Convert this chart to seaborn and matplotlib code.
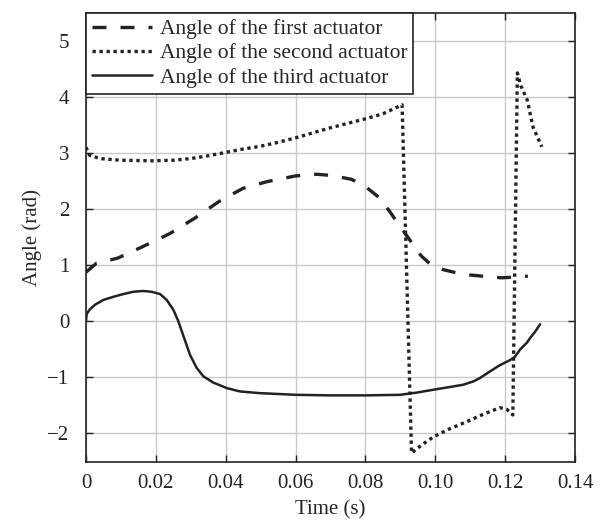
import matplotlib
matplotlib.use("Agg")
import matplotlib.pyplot as plt
import seaborn as sns
import pandas as pd

# ---- data ----
t1 = [0.0, 0.003, 0.009, 0.016, 0.024, 0.031, 0.038, 0.045, 0.052, 0.060, 0.066,
      0.070, 0.076, 0.080, 0.084, 0.087, 0.090, 0.093, 0.096, 0.099, 0.102, 0.106,
      0.110, 0.115, 0.119, 0.122, 0.1265]
a1 = [0.87, 1.03, 1.12, 1.32, 1.56, 1.83, 2.13, 2.37, 2.49, 2.59, 2.62,
      2.60, 2.53, 2.40, 2.20, 1.95, 1.68, 1.42, 1.16, 0.99, 0.92, 0.86,
      0.82, 0.79, 0.77, 0.78, 0.80]

t2 = [0.0, 0.001, 0.004, 0.010, 0.019, 0.025, 0.030, 0.035, 0.040, 0.045, 0.050,
      0.055, 0.060, 0.065, 0.070, 0.075, 0.080, 0.085, 0.0905, 0.0932, 0.096,
      0.0995, 0.104, 0.109, 0.114, 0.1185, 0.1205, 0.1222, 0.1235, 0.1245,
      0.1263, 0.128, 0.1295, 0.1305]
a2 = [3.10, 2.96, 2.90, 2.87, 2.86, 2.87, 2.90, 2.95, 3.01, 3.07, 3.12,
      3.19, 3.27, 3.36, 3.45, 3.53, 3.61, 3.70, 3.86, -2.36, -2.22,
      -2.07, -1.93, -1.80, -1.66, -1.55, -1.58, -1.68, 4.43, 4.20,
      3.95, 3.46, 3.25, 3.11]

t3 = [0.0, 0.0002, 0.00115, 0.0026, 0.005, 0.0078, 0.0107, 0.0135, 0.0164,
      0.0188, 0.0212, 0.0231, 0.025, 0.0264, 0.0279, 0.0298, 0.0317, 0.0336,
      0.0364, 0.0403, 0.0441, 0.0498, 0.060, 0.070, 0.080, 0.0899, 0.0947,
      0.0994, 0.1042, 0.108, 0.1109, 0.1128, 0.1157, 0.1185, 0.1214, 0.1228,
      0.1243, 0.1262, 0.1271, 0.1286, 0.130]
a3 = [0.0, 0.125, 0.21, 0.29, 0.375, 0.43, 0.48, 0.52, 0.535,
      0.52, 0.48, 0.375, 0.20, 0.0, -0.27, -0.61, -0.84, -0.99,
      -1.10, -1.20, -1.26, -1.29, -1.32, -1.33, -1.33, -1.32, -1.28,
      -1.23, -1.18, -1.14, -1.08, -1.02, -0.90, -0.79, -0.70, -0.64,
      -0.51, -0.39, -0.31, -0.19, -0.06]

labels = ["Angle of the first actuator", "Angle of the second actuator",
          "Angle of the third actuator"]
xticks = [0, 0.02, 0.04, 0.06, 0.08, 0.10, 0.12, 0.14]
xticklabels = ["0", "0.02", "0.04", "0.06", "0.08", "0.10", "0.12", "0.14"]
yticks = [-2, -1, 0, 1, 2, 3, 4, 5]

sns.set_style("ticks")
plt.rcParams["font.family"] = ["Liberation Serif", "DejaVu Serif"]
plt.rcParams["font.size"] = 15

fig = plt.figure(figsize=(6.03, 5.22), dpi=100)
ax = fig.add_axes([86/603, 1-462/522, (575-86)/603, (462-13)/522])

col = "#222222"
df1 = pd.DataFrame({"t": t1, "a": a1})
df2 = pd.DataFrame({"t": t2, "a": a2})
df3 = pd.DataFrame({"t": t3, "a": a3})

sns.lineplot(data=df1, x="t", y="a", ax=ax, color=col, lw=2.4,
             linestyle=(0, (4.2, 4.2)), estimator=None, sort=False,
             dash_capstyle="butt")
sns.lineplot(data=df2, x="t", y="a", ax=ax, color=col, lw=2.4,
             linestyle=(0, (1.0, 1.1)), estimator=None, sort=False,
             dash_capstyle="butt")
sns.lineplot(data=df3, x="t", y="a", ax=ax, color=col, lw=1.8,
             linestyle="-", estimator=None, sort=False)

ax.set_xlim(0, 0.14)
ax.set_ylim(-2.52, 5.5)
ax.set_xticks(xticks)
ax.set_xticklabels(xticklabels)
ax.set_yticks(yticks)
ax.grid(True, color="#c8c8c8", lw=1.0)
ax.set_axisbelow(True)
for s in ax.spines.values():
    s.set_visible(True)
    s.set_color("#222222")
    s.set_linewidth(1.2)
ax.tick_params(direction="in", length=5, width=1, top=True, right=True,
               labelsize=15, colors="#222222")
ax.tick_params(axis="x", pad=9)
ax.tick_params(axis="y", pad=12)
ax.set_xlabel("Time (s)", fontsize=15, labelpad=5)
ax.set_ylabel("Angle (rad)", fontsize=15, labelpad=4)

leg = ax.legend(ax.lines[:3], labels, loc="upper left", fontsize=15.5,
                frameon=True, fancybox=False, framealpha=1, edgecolor="#222222",
                borderaxespad=0, borderpad=0.28, labelspacing=0.2,
                handlelength=2.8, handletextpad=0.35)
leg.get_frame().set_linewidth(1.2)

fig.savefig("out.png", dpi=100)
